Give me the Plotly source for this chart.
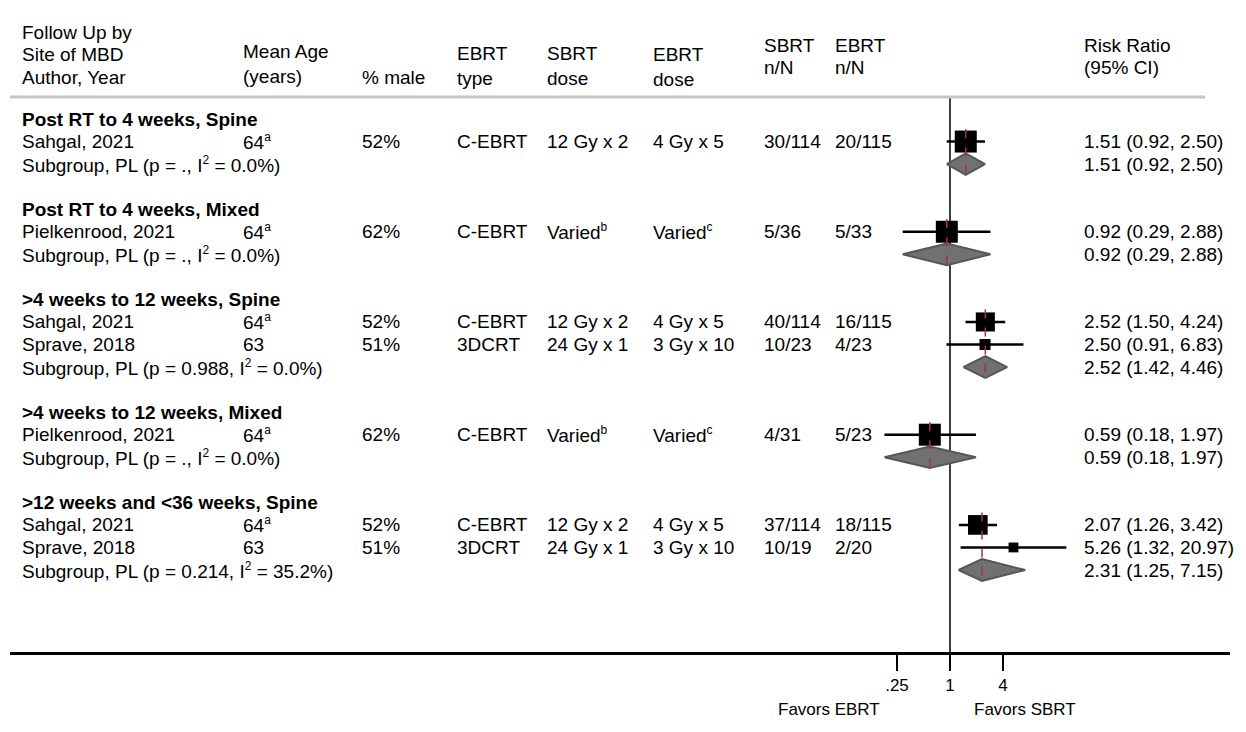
import math
import plotly.graph_objects as go

# ---------------- data ----------------
group_labels = [
    "Post RT to 4 weeks, Spine",
    "Post RT to 4 weeks, Mixed",
    ">4 weeks to 12 weeks, Spine",
    ">4 weeks to 12 weeks, Mixed",
    ">12 weeks and <36 weeks, Spine",
]
study_group = [0, 1, 2, 2, 3, 4, 4]
study_author = ["Sahgal, 2021", "Pielkenrood, 2021", "Sahgal, 2021", "Sprave, 2018",
                "Pielkenrood, 2021", "Sahgal, 2021", "Sprave, 2018"]
study_age = ["64", "64", "64", "63", "64", "64", "63"]
study_age_note = ["a", "a", "a", "", "a", "a", ""]
study_male = ["52%", "62%", "52%", "51%", "62%", "52%", "51%"]
study_ebrt_type = ["C-EBRT", "C-EBRT", "C-EBRT", "3DCRT", "C-EBRT", "C-EBRT", "3DCRT"]
study_sbrt_dose = ["12 Gy x 2", "Varied", "12 Gy x 2", "24 Gy x 1", "Varied", "12 Gy x 2", "24 Gy x 1"]
study_sbrt_note = ["", "b", "", "", "b", "", ""]
study_ebrt_dose = ["4 Gy x 5", "Varied", "4 Gy x 5", "3 Gy x 10", "Varied", "4 Gy x 5", "3 Gy x 10"]
study_ebrt_note = ["", "c", "", "", "c", "", ""]
study_sbrt_nN = ["30/114", "5/36", "40/114", "10/23", "4/31", "37/114", "10/19"]
study_ebrt_nN = ["20/115", "5/33", "16/115", "4/23", "5/23", "18/115", "2/20"]
study_rr = [1.51, 0.92, 2.52, 2.50, 0.59, 2.07, 5.26]
study_lo = [0.92, 0.29, 1.50, 0.91, 0.18, 1.26, 1.32]
study_hi = [2.50, 2.88, 4.24, 6.83, 1.97, 3.42, 20.97]
study_weight = [100, 100, 75, 25, 100, 80, 20]

sub_p = [".", ".", "0.988", ".", "0.214"]
sub_i2 = ["0.0", "0.0", "0.0", "0.0", "35.2"]
sub_rr = [1.51, 0.92, 2.52, 0.59, 2.31]
sub_lo = [0.92, 0.29, 1.42, 0.18, 1.25]
sub_hi = [2.50, 2.88, 4.46, 1.97, 7.15]

tick_vals = [0.25, 1, 4]
tick_text = [".25", "1", "4"]

# ---------------- layout helpers ----------------
W, H = 1246, 732
FONT = "Arial, Liberation Sans, sans-serif"
FS = 19
ROW0_PX, ROW_PX = 119.0, 22.55
PLOT_BOTTOM = 652
Y_TOP = (0 - ROW0_PX) / ROW_PX
Y_BOT = (PLOT_BOTTOM - ROW0_PX) / ROW_PX
col_px = [20, 241, 360, 455, 545, 651, 762, 833, 1082]

def sup(base, note):
    return base + (f"<sup><span style='font-size:12px'>{note}</span></sup>" if note else "")

# assign rows
group_row, study_row, sub_row = [], [], []
r = 0
for g in range(len(group_labels)):
    group_row.append(r); r += 1
    for i, sg in enumerate(study_group):
        if sg == g:
            study_row.append(r); r += 1
    sub_row.append(r); r += 1
    r += 1

annotations = []
def add_text(px, row, text, yref="y", size=FS):
    annotations.append(dict(x=px / W, y=row, xref="paper", yref=yref, text=text,
                            showarrow=False, xanchor="left", yanchor="middle",
                            font=dict(family=FONT, size=size, color="black")))

def hdr(px, py, text):
    add_text(px, (PLOT_BOTTOM - py) / PLOT_BOTTOM, text, yref="paper")

# headers
hdr(col_px[0], 32, "Follow Up by"); hdr(col_px[0], 55, "Site of MBD"); hdr(col_px[0], 78, "Author, Year")
hdr(col_px[1], 52, "Mean Age"); hdr(col_px[1], 77, "(years)")
hdr(col_px[2], 78, "% male")
hdr(col_px[3], 54, "EBRT"); hdr(col_px[3], 79, "type")
hdr(col_px[4], 54, "SBRT"); hdr(col_px[4], 79, "dose")
hdr(col_px[5], 55, "EBRT"); hdr(col_px[5], 80, "dose")
hdr(col_px[6], 45, "SBRT"); hdr(col_px[6], 68, "n/N")
hdr(col_px[7], 45, "EBRT"); hdr(col_px[7], 68, "n/N")
hdr(col_px[8], 45, "Risk Ratio"); hdr(col_px[8], 68, "(95% CI)")

for g, lab in enumerate(group_labels):
    add_text(col_px[0], group_row[g], f"<b>{lab}</b>")
    add_text(col_px[0], sub_row[g],
             f"Subgroup, PL (p = {sub_p[g]}, I<sup><span style='font-size:12px'>2</span></sup> = {sub_i2[g]}%)")
    add_text(col_px[8], sub_row[g], f"{sub_rr[g]:.2f} ({sub_lo[g]:.2f}, {sub_hi[g]:.2f})")

for i in range(len(study_author)):
    rw = study_row[i]
    add_text(col_px[0], rw, study_author[i])
    add_text(col_px[1], rw, sup(study_age[i], study_age_note[i]))
    add_text(col_px[2], rw, study_male[i])
    add_text(col_px[3], rw, study_ebrt_type[i])
    add_text(col_px[4], rw, sup(study_sbrt_dose[i], study_sbrt_note[i]))
    add_text(col_px[5], rw, sup(study_ebrt_dose[i], study_ebrt_note[i]))
    add_text(col_px[6], rw, study_sbrt_nN[i])
    add_text(col_px[7], rw, study_ebrt_nN[i])
    add_text(col_px[8], rw, f"{study_rr[i]:.2f} ({study_lo[i]:.2f}, {study_hi[i]:.2f})")

# favors labels
for txt, cx in [("Favors EBRT", 829), ("Favors SBRT", 1025)]:
    annotations.append(dict(x=cx / W, y=(PLOT_BOTTOM - 709) / PLOT_BOTTOM, xref="paper", yref="paper",
                            text=txt, showarrow=False, xanchor="center", yanchor="middle",
                            font=dict(family=FONT, size=17, color="black")))

fig = go.Figure()

# null line
fig.add_trace(go.Scatter(x=[1, 1], y=[(97 - ROW0_PX) / ROW_PX, Y_BOT], mode="lines",
                         line=dict(color="black", width=1.5), hoverinfo="skip", showlegend=False))

# diamonds
DH = 0.48
for g in range(len(group_labels)):
    rw = sub_row[g]
    fig.add_trace(go.Scatter(
        x=[sub_lo[g], sub_rr[g], sub_hi[g], sub_rr[g], sub_lo[g]],
        y=[rw, rw - DH, rw, rw + DH, rw],
        mode="lines", fill="toself", fillcolor="#717171",
        line=dict(color="#575757", width=2), hoverinfo="skip", showlegend=False))

# CIs
for i in range(len(study_author)):
    fig.add_trace(go.Scatter(x=[study_lo[i], study_hi[i]], y=[study_row[i]] * 2, mode="lines",
                             line=dict(color="black", width=2.5), hoverinfo="skip", showlegend=False))

# squares
fig.add_trace(go.Scatter(
    x=study_rr, y=study_row, mode="markers", opacity=1,
    marker=dict(symbol="square", color="#000000", opacity=1,
                size=[22 * (w / 100) ** 0.5 for w in study_weight],
                line=dict(color="#000000", width=0)),
    hoverinfo="skip", showlegend=False))

# pooled estimate dashed lines
for g in range(len(group_labels)):
    first = min(study_row[i] for i in range(len(study_author)) if study_group[i] == g)
    fig.add_trace(go.Scatter(x=[sub_rr[g], sub_rr[g]], y=[first - 0.55, sub_row[g] + DH], mode="lines",
                             line=dict(color="#a8323e", width=1.5, dash="dash"),
                             hoverinfo="skip", showlegend=False))

# header separator
shapes = [dict(type="line", xref="paper", yref="y", x0=10 / W, x1=1205 / W,
               y0=(97 - ROW0_PX) / ROW_PX, y1=(97 - ROW0_PX) / ROW_PX,
               line=dict(color="#c4c4c4", width=3))]

PX_PER_DEC = 26.5 / math.log10(2)
x_left_px, x_right_px, one_px = 10, 1230, 950

fig.update_layout(
    width=W, height=H,
    margin=dict(l=0, r=0, t=0, b=H - PLOT_BOTTOM),
    paper_bgcolor="white", plot_bgcolor="white",
    showlegend=False,
    annotations=annotations,
    shapes=shapes,
    xaxis=dict(type="log", domain=[x_left_px / W, x_right_px / W],
               range=[(x_left_px - one_px) / PX_PER_DEC, (x_right_px - one_px) / PX_PER_DEC],
               tickvals=tick_vals, ticktext=tick_text, ticks="outside", ticklen=16, tickwidth=1.5,
               tickcolor="black", showline=True, linewidth=3, linecolor="black",
               showgrid=False, zeroline=False,
               tickfont=dict(family=FONT, size=17, color="black")),
    yaxis=dict(range=[Y_BOT, Y_TOP], visible=False, showgrid=False, zeroline=False),
)

fig.write_html("out.html")
